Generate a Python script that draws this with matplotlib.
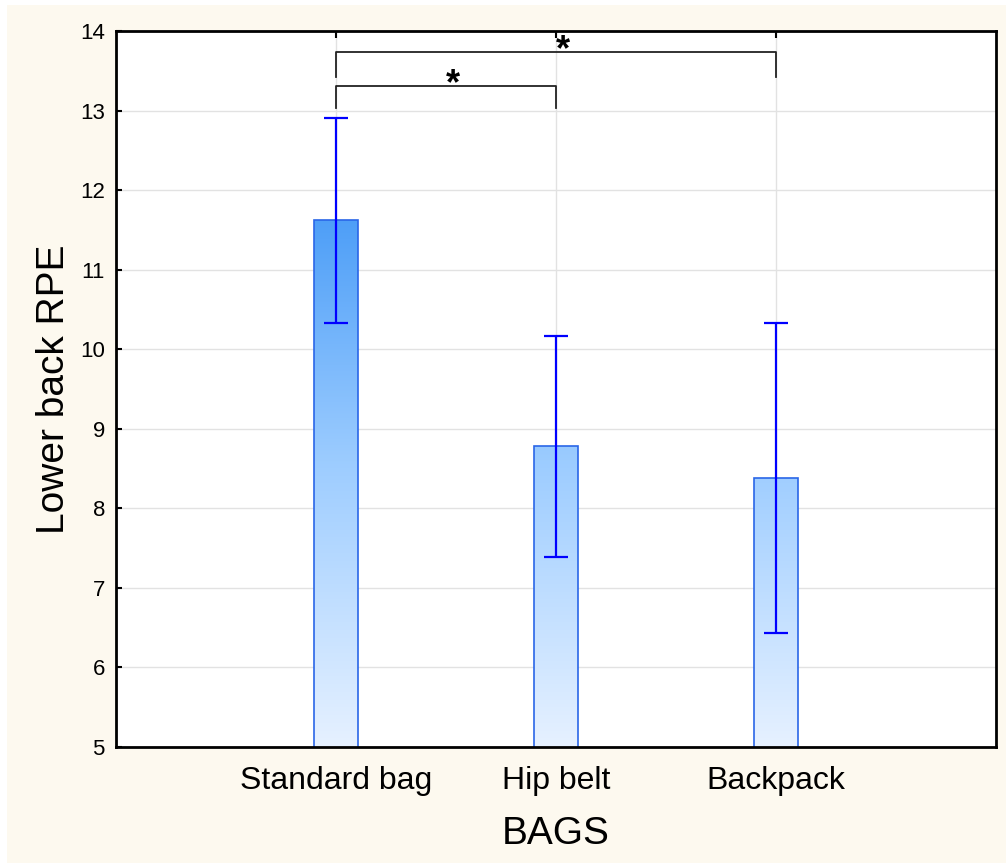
import numpy as np
import matplotlib.pyplot as plt
from matplotlib.colors import LinearSegmentedColormap
from matplotlib.patches import Rectangle

plt.rcParams['font.family'] = ['Liberation Sans', 'DejaVu Sans']

bags = ["Standard bag", "Hip belt", "Backpack"]
means = [11.62, 8.78, 8.38]
errs = [1.29, 1.39, 1.95]

# significance brackets: (left bar, right bar, bar height, leg bottom)
brackets = [(0, 1, 13.31, 13.03), (0, 2, 13.74, 13.42)]

fig = plt.figure(figsize=(10.06, 8.63), dpi=100, facecolor='white')
fig.patches.append(Rectangle((7 / 1006, 0), 1, 1 - 5 / 863, transform=fig.transFigure,
                             facecolor='#fdf9ef', edgecolor='none', zorder=-10))
ax = fig.add_axes([116 / 1006, 1 - 747 / 863, 880 / 1006, 716 / 863])
ax.set_facecolor('white')

x = np.arange(len(bags))
ax.set_xlim(-1, 3)
ax.set_ylim(5, 14)

# vertical blue gradient, shared by all bars
cmap = LinearSegmentedColormap.from_list('bagblue', ['#e6f1ff', '#9cccff', '#3f96f6'])
grad = np.linspace(0, 1, 256).reshape(-1, 1)
bars = ax.bar(x, means, width=0.2, bottom=0, color='none', edgecolor='#2a66e8',
              linewidth=1.2, zorder=3)
for b in bars:
    im = ax.imshow(grad, cmap=cmap, origin='lower', aspect='auto',
                   extent=(b.get_x(), b.get_x() + b.get_width(), 5, 12.2), zorder=2)
    im.set_clip_path(b)

ax.errorbar(x, means, yerr=errs, fmt='none', ecolor='#0000ff', elinewidth=1.6,
            capsize=8.3, capthick=1.6, zorder=4)

for i, j, h, low in brackets:
    ax.plot([x[i], x[i], x[j], x[j]], [low, h, h, low], color='#222222', lw=1.3,
            zorder=5, clip_on=False)
    # the asterisk glyph sits high in its box, so drop the baseline below the bracket
    ax.text((x[i] + x[j]) / 2 + 0.03, h - 0.11, '*', ha='center', va='baseline',
            fontsize=26, fontweight='bold', zorder=5)

ax.set_xticks(x)
ax.set_xticklabels(bags, fontsize=23)
ax.set_yticks(np.arange(5, 15))
ax.tick_params(axis='y', labelsize=16, direction='in', length=4, width=1.5, pad=8)
ax.tick_params(axis='x', direction='in', length=5, width=1.5, pad=14, top=True)
ax.grid(True, color='#e2e2e2', linewidth=1)
ax.set_axisbelow(True)
for s in ax.spines.values():
    s.set_linewidth(2)
    s.set_color('black')
    s.set_zorder(6)

ax.set_xlabel("BAGS", fontsize=28, labelpad=14)
ax.set_ylabel("Lower back RPE", fontsize=28, labelpad=6)

fig.savefig('out.png', dpi=100, facecolor=fig.get_facecolor())
